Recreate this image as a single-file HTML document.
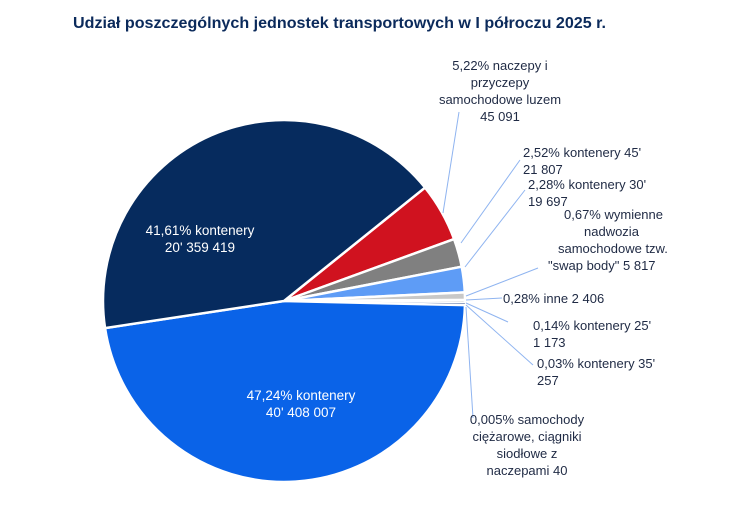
<!DOCTYPE html>
<html><head><meta charset="utf-8"><style>
body{margin:0;background:#fff;}
svg text{font-family:"Liberation Sans",sans-serif;}
</style></head><body>
<svg id="s" width="736" height="521" viewBox="0 0 736 521" xmlns="http://www.w3.org/2000/svg">
<rect width="736" height="521" fill="#fff"/>
<text x="73" y="28" font-size="16" font-weight="bold" fill="#0b2a5b" textLength="533" lengthAdjust="spacingAndGlyphs">Udział poszczególnych jednostek transportowych w I półroczu 2025 r.</text>
<g id="pie"></g>
<g stroke="#8fb4f0" stroke-width="1" fill="none">
<polyline points="443,213 459,112"/>
<polyline points="461,243 520,160"/>
<polyline points="465,267 525,190"/>
<polyline points="466,296 538,268"/>
<polyline points="466,300 502,298"/>
<polyline points="466,303 508,322"/>
<polyline points="466,305 533,365"/>
<polyline points="466,307 473,418"/>
</g>
<g font-size="13" fill="#1f2a44" text-anchor="middle">
<text x="500" y="70">5,22% naczepy i</text>
<text x="500" y="87">przyczepy</text>
<text x="500" y="104">samochodowe luzem</text>
<text x="500" y="121">45 091</text>
</g>
<g font-size="13" fill="#1f2a44">
<text x="523" y="157">2,52% kontenery 45'</text>
<text x="523" y="174">21 807</text>
<text x="528" y="189">2,28% kontenery 30'</text>
<text x="528" y="206">19 697</text>
<text x="564" y="219">0,67% wymienne</text>
<text x="584" y="236">nadwozia</text>
<text x="558" y="253">samochodowe tzw.</text>
<text x="548" y="270">"swap body" 5 817</text>
<text x="503" y="303">0,28% inne 2 406</text>
<text x="533" y="330">0,14% kontenery 25'</text>
<text x="533" y="347">1 173</text>
<text x="537" y="368">0,03% kontenery 35'</text>
<text x="537" y="385">257</text>
</g>
<g font-size="13" fill="#1f2a44" text-anchor="middle">
<text x="527" y="424">0,005% samochody</text>
<text x="527" y="441">ciężarowe, ciągniki</text>
<text x="527" y="458">siodłowe z</text>
<text x="527" y="475">naczepami 40</text>
</g>
<g font-size="13.5" fill="#fff" text-anchor="middle">
<text x="200" y="235">41,61% kontenery</text>
<text x="200" y="252">20' 359 419</text>
<text x="301" y="400">47,24% kontenery</text>
<text x="301" y="417">40' 408 007</text>
</g>
</svg>
<script>
var cx=284,cy=301,r=181;
var d=[[5.22,"#d0121f"],[2.52,"#808080"],[2.28,"#5e9cf6"],[0.67,"#c8c8c8"],[0.28,"#dcdcdc"],[0.14,"#3a5a9a"],[0.03,"#0b2a5b"],[0.005,"#0b2a5b"],[47.24,"#0a63e8"],[41.61,"#062b5e"]];
var tot=0;d.forEach(function(x){tot+=x[0];});
var a=51.2,h="";
function pt(g){var t=g*Math.PI/180;return [(cx+r*Math.sin(t)).toFixed(2),(cy-r*Math.cos(t)).toFixed(2)];}
d.forEach(function(x){var s=x[0]/tot*360;var p1=pt(a),p2=pt(a+s);
h+='<path d="M'+cx+','+cy+' L'+p1+' A'+r+','+r+' 0 '+(s>180?1:0)+' 1 '+p2+' Z" fill="'+x[1]+'" stroke="#fff" stroke-width="'+(s<1?0.3:2.5)+'"/>';a+=s;});
document.getElementById("pie").innerHTML=h;
</script>
</body></html>
